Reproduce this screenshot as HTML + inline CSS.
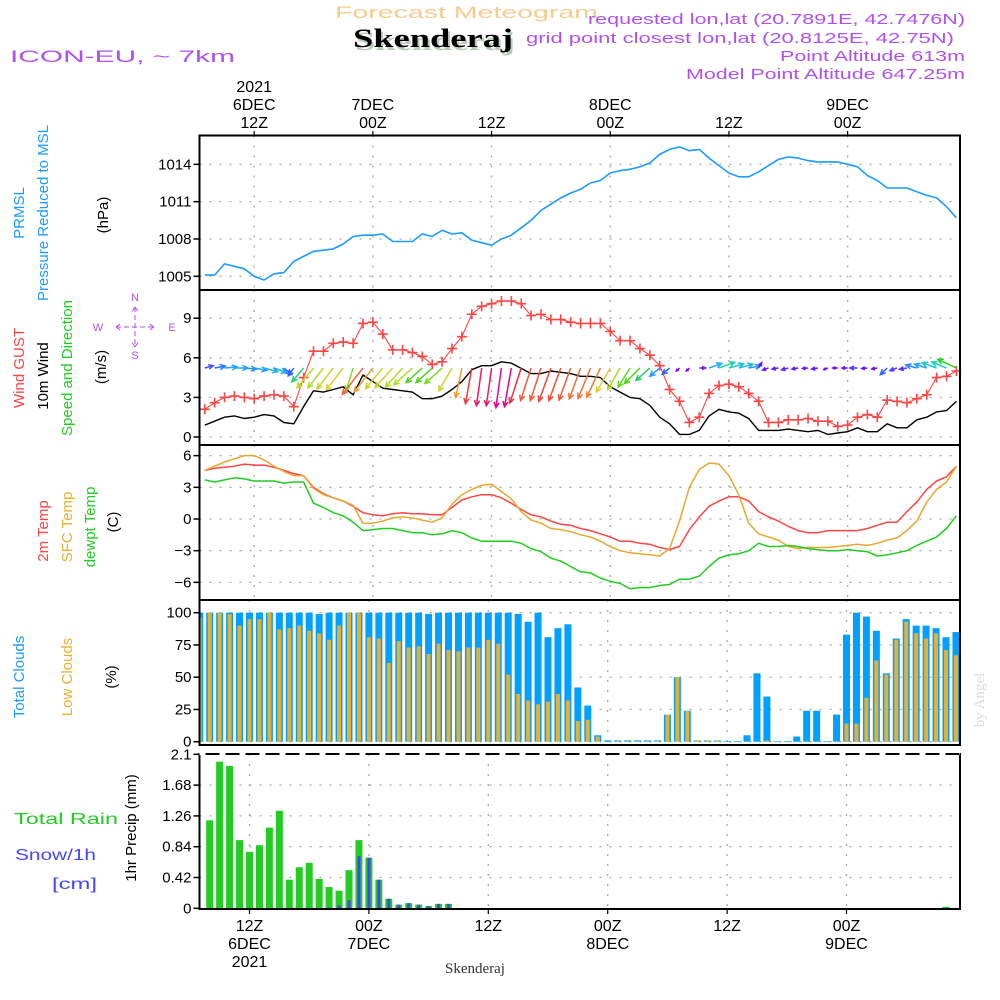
<!DOCTYPE html>
<html><head><meta charset="utf-8"><title>Forecast Meteogram Skenderaj</title>
<style>
html,body{margin:0;padding:0;background:#fff;}
svg{display:block;font-family:"Liberation Sans",sans-serif;}
</style></head>
<body>
<svg id="chart" width="1000" height="1000" viewBox="0 0 1000 1000" xmlns="http://www.w3.org/2000/svg">
<g>
<text x="335" y="18" font-size="17" fill="#f5cc8e" textLength="263" lengthAdjust="spacingAndGlyphs">Forecast Meteogram</text>
<text x="355" y="50" font-family="Liberation Serif,serif" font-weight="bold" font-size="26" fill="#b8cbb8" textLength="160" lengthAdjust="spacingAndGlyphs">Skenderaj</text>
<text x="353" y="47" font-family="Liberation Serif,serif" font-weight="bold" font-size="26" fill="#000" textLength="160" lengthAdjust="spacingAndGlyphs">Skenderaj</text>
<text x="10" y="62" font-size="17" fill="#b050f0" textLength="225" lengthAdjust="spacingAndGlyphs">ICON-EU, ~ 7km</text>
<text x="588" y="24" font-size="15" fill="#b050f0" textLength="377" lengthAdjust="spacingAndGlyphs">requested lon,lat (20.7891E, 42.7476N)</text>
<text x="526" y="43" font-size="15" fill="#b050f0" textLength="428" lengthAdjust="spacingAndGlyphs">grid point closest lon,lat (20.8125E, 42.75N)</text>
<text x="780" y="61" font-size="15" fill="#b050f0" textLength="185" lengthAdjust="spacingAndGlyphs">Point Altitude 613m</text>
<text x="686" y="79" font-size="15" fill="#b050f0" textLength="279" lengthAdjust="spacingAndGlyphs">Model Point Altitude 647.25m</text>
</g>
<g id="grid"></g>
<g id="marks"></g>
<g id="frames"></g>
<g id="axes"></g>
<g font-size="15">
<text transform="translate(24,213) rotate(-90)" text-anchor="middle" fill="#1e9bff">PRMSL</text>
<text transform="translate(48,213) rotate(-90)" text-anchor="middle" fill="#1e9bff">Pressure  Reduced to MSL</text>
<text transform="translate(108,215) rotate(-90)" text-anchor="middle" fill="#000">(hPa)</text>
<text transform="translate(24,368) rotate(-90)" text-anchor="middle" fill="#ff4444">Wind GUST</text>
<text transform="translate(48,376) rotate(-90)" text-anchor="middle" fill="#000">10m Wind</text>
<text transform="translate(72,368) rotate(-90)" text-anchor="middle" fill="#22cc22">Speed and Direction</text>
<text transform="translate(106,367) rotate(-90)" text-anchor="middle" fill="#000">(m/s)</text>
<g fill="#b050f0" font-size="11" text-anchor="middle">
<text x="135" y="301">N</text><text x="135" y="359">S</text>
<text x="98" y="331">W</text><text x="172" y="331">E</text>
<path d="M116,327H154M116,327l6,-4M116,327l6,4M154,327l-6,-4M154,327l-6,4M135,307V347M135,307l-4,6M135,307l4,6M135,347l-4,-6M135,347l4,-6" stroke="#b050f0" stroke-width="1" stroke-dasharray="5 3" fill="none"/>
</g>
<text transform="translate(48,531) rotate(-90)" text-anchor="middle" fill="#ff4444">2m Temp</text>
<text transform="translate(72,527) rotate(-90)" text-anchor="middle" fill="#e8b030">SFC Temp</text>
<text transform="translate(95,527) rotate(-90)" text-anchor="middle" fill="#22cc22">dewpt Temp</text>
<text transform="translate(118,522) rotate(-90)" text-anchor="middle" fill="#000">(C)</text>
<text transform="translate(24,677) rotate(-90)" text-anchor="middle" fill="#1e9bff">Total Clouds</text>
<text transform="translate(72,677) rotate(-90)" text-anchor="middle" fill="#e8b030">Low Clouds</text>
<text transform="translate(116,677) rotate(-90)" text-anchor="middle" fill="#000">(%)</text>
<text transform="translate(136,828) rotate(-90)" text-anchor="middle" fill="#000">1hr Precip (mm)</text>
<text x="14" y="824" fill="#22cc22" font-size="16" textLength="104" lengthAdjust="spacingAndGlyphs">Total   Rain</text>
<text x="15" y="860" fill="#4444ff" font-size="16" textLength="81" lengthAdjust="spacingAndGlyphs">Snow/1h</text>
<text x="52" y="889" fill="#4444ff" font-size="16" textLength="45" lengthAdjust="spacingAndGlyphs">[cm]</text>
<text transform="translate(984,700) rotate(-90)" text-anchor="middle" font-family="Liberation Serif,serif" font-size="15" fill="#d8ddd8">by Angel</text>
<text x="475" y="973" text-anchor="middle" font-family="Liberation Serif,serif" font-size="15" fill="#333">Skenderaj</text>
</g>
</svg>
<script>
// ---- data (hours from 06 DEC 12Z, hourly from -5 to 71) ----
const hours = [-5,-4,-3,-2,-1,0,1,2,3,4,5,6,7,8,9,10,11,12,13,14,15,16,17,18,19,20,21,22,23,24,25,26,27,28,29,30,31,32,33,34,35,36,37,38,39,40,41,42,43,44,45,46,47,48,49,50,51,52,53,54,55,56,57,58,59,60,61,62,63,64,65,66,67,68,69,70,71];
const pressure = [1005.1,1005.1,1006.0,1005.8,1005.6,1005.0,1004.7,1005.2,1005.3,1006.2,1006.6,1007.0,1007.1,1007.2,1007.6,1008.2,1008.3,1008.3,1008.4,1007.8,1007.8,1007.8,1008.4,1008.2,1008.7,1008.4,1008.5,1007.9,1007.7,1007.5,1008.0,1008.3,1008.9,1009.5,1010.3,1010.8,1011.3,1011.7,1012.0,1012.5,1012.7,1013.3,1013.5,1013.6,1013.8,1014.1,1014.8,1015.2,1015.4,1015.1,1015.2,1014.5,1013.9,1013.3,1013.0,1013.0,1013.4,1013.9,1014.4,1014.6,1014.5,1014.3,1014.2,1014.2,1014.2,1014.0,1013.8,1013.1,1012.7,1012.1,1012.1,1012.1,1011.8,1011.5,1011.3,1010.6,1009.7];
const windGust = [2.1,2.6,3.0,3.1,3.0,2.9,3.1,3.2,3.1,2.3,4.5,6.5,6.5,7.1,7.2,7.1,8.6,8.7,7.8,6.6,6.6,6.4,6.1,5.5,5.7,6.7,7.6,9.3,9.9,10.1,10.3,10.3,10.1,9.2,9.3,8.9,8.9,8.7,8.6,8.6,8.6,8.0,7.3,7.3,6.7,6.2,5.4,3.6,2.7,1.1,1.5,3.3,3.9,4.0,3.8,3.3,2.7,1.1,1.1,1.3,1.3,1.4,1.2,1.2,0.8,0.9,1.5,1.7,1.5,2.8,2.7,2.6,2.9,3.2,4.5,4.6,5.0];
const wind10m = [0.9,1.2,1.5,1.6,1.4,1.5,1.7,1.6,1.1,1.0,2.3,3.5,3.4,3.6,3.8,3.2,4.7,4.2,3.7,3.6,3.5,3.4,2.9,2.9,3.1,3.6,4.2,5.1,5.4,5.4,5.7,5.6,5.2,4.8,4.8,5.0,4.9,4.8,4.6,4.6,4.5,3.8,3.4,3.0,2.9,2.4,1.5,1.0,0.2,0.2,0.5,1.6,2.1,1.9,1.8,1.4,0.5,0.5,0.5,0.6,0.5,0.4,0.5,0.2,0.3,0.4,0.7,0.4,0.4,1.0,0.7,0.7,1.3,1.5,1.9,2.0,2.7];
const windDir = [15,10,5,0,-5,-10,-15,-20,-40,235,230,230,232,232,232,253,232,232,230,228,228,222,222,222,222,240,258,260,262,262,262,260,252,252,252,250,250,250,250,248,245,240,240,238,225,222,220,220,225,225,0,20,20,15,15,10,60,200,190,195,190,185,190,200,180,180,180,185,190,225,200,190,165,162,160,158,155];
const temp2m = [4.6,4.8,4.9,5.0,5.2,5.1,5.1,4.9,4.6,4.3,4.1,3.0,2.4,2.0,1.7,1.2,0.6,0.4,0.3,0.5,0.6,0.5,0.5,0.4,0.4,1.1,1.8,2.1,2.3,2.3,2.0,1.5,0.9,0.4,0.2,-0.2,-0.5,-0.6,-0.9,-1.1,-1.4,-1.7,-2.1,-2.1,-2.3,-2.4,-2.7,-2.9,-2.6,-1.0,0.2,1.2,1.7,2.1,2.1,1.7,0.7,0.2,-0.2,-0.7,-1.1,-1.3,-1.3,-1.1,-1.1,-1.1,-1.1,-0.9,-0.6,-0.3,-0.3,0.7,1.6,2.8,3.6,4.0,5.0];
const tempSfc = [4.6,5.0,5.4,5.7,6.0,6.0,5.6,5.0,4.5,4.1,4.1,2.9,2.3,2.0,1.7,1.3,-0.4,-0.4,-0.2,0.1,0.2,0.1,-0.1,-0.3,0.1,1.4,2.3,2.8,3.2,3.3,2.6,1.9,0.7,-0.1,-0.4,-0.9,-1.0,-1.2,-1.5,-1.7,-2.1,-2.6,-3.0,-3.2,-3.3,-3.4,-3.5,-2.8,-0.2,3.0,4.7,5.3,5.2,4.1,2.3,-0.4,-1.4,-1.7,-2.0,-2.6,-2.8,-2.7,-2.7,-2.7,-2.6,-2.5,-2.4,-2.5,-2.3,-2.0,-1.8,-1.1,-0.2,1.6,2.8,3.5,5.0];
const tempDew = [3.7,3.5,3.7,3.9,3.8,3.6,3.6,3.6,3.4,3.5,3.5,1.5,1.1,0.6,0.3,-0.3,-1.1,-1.0,-0.9,-0.9,-1.1,-1.3,-1.3,-1.5,-1.4,-1.1,-1.3,-1.8,-2.1,-2.1,-2.1,-2.1,-2.3,-2.8,-3.1,-3.7,-4.0,-4.5,-5.0,-5.1,-5.6,-5.9,-6.1,-6.6,-6.5,-6.5,-6.3,-6.2,-5.7,-5.7,-5.4,-4.5,-3.7,-3.4,-3.3,-3.0,-2.3,-2.6,-2.6,-2.5,-2.6,-2.8,-2.9,-3.0,-3.0,-2.9,-3.0,-3.1,-3.5,-3.4,-3.2,-3.0,-2.5,-2.1,-1.7,-0.9,0.3];
const totalClouds = [100,100,100,100,100,100,100,100,100,100,100,100,99,100,100,100,100,100,100,100,100,100,100,99,100,100,100,100,100,100,100,100,99,93,100,81,88,91,42,28,5,1,1,1,1,1,1,21,50,24,1,1,1,0.5,0.5,5,53,35,0.5,0.5,4,24,24,0.5,21,83,100,97,86,53,80,95,90,90,88,81,85];
const lowClouds = [96,100,100,99,90,95,95,100,87,88,90,86,84,79,90,100,100,81,80,61,78,73,74,68,76,71,70,73,73,79,76,52,37,32,29,31,37,32,16,17,4,0,0.5,0.5,0.5,0.5,0.5,21,50,24,1,1,1,0,0,0,0,1,0,0,0,0,0,0,0,14,14,34,63,52,79,93,84,80,84,71,67];
const rain = [0,1.20,2.0,1.94,0.93,0.77,0.86,1.10,1.33,0.39,0.56,0.62,0.40,0.29,0.24,0.52,0.93,0.69,0.39,0.13,0.05,0.07,0.05,0.03,0.06,0.06,0,0,0,0,0,0,0,0,0,0,0,0,0,0,0,0,0,0,0,0,0,0,0,0,0,0,0,0,0,0,0,0,0,0,0,0,0,0,0,0,0,0,0,0,0,0,0,0,0,0.02,0];
const snow = [0,0,0,0,0,0,0,0,0,0,0,0,0,0.01,0.04,0.11,0.71,0.69,0.39,0.13,0.05,0.07,0.05,0.03,0.06,0.06,0,0,0,0,0,0,0,0,0,0,0,0,0,0,0,0,0,0,0,0,0,0,0,0,0,0,0,0,0,0,0,0,0,0,0,0,0,0,0,0,0,0,0,0,0,0,0,0,0,0,0];
const pressureTicks = [1005,1008,1011,1014];
const windTicks = [0,3,6,9];
const tempTicks = [-6,-3,0,3,6];
const cloudTicks = [0,25,50,75,100];
const precipTicks = [0,0.42,0.84,1.26,1.68,2.1];
const timeTickHours = [0,12,24,36,48,60];
const topLabels = [["2021","6DEC","12Z"],["7DEC","00Z"],["12Z"],["8DEC","00Z"],["12Z"],["9DEC","00Z"]];
const bottomLabels = [["12Z","6DEC","2021"],["00Z","7DEC"],["12Z"],["00Z","8DEC"],["12Z"],["00Z","9DEC"]];

// ---- scales ----
const NS='http://www.w3.org/2000/svg';
const L=199.5, R=960;
const xt = h => 254.2 + h*9.89;
const xb = h => 249.5 + h*9.95;
const yP = p => 276.3 - (p-1005)*12.44;
const yW = v => 437 - v*13.2;
const yT = t => 519 - t*10.56;
const yC = c => 741.7 - c*1.29;
const yR = r => 908.3 - r*73.33;
const panels = [
 {name:'pressure',top:135.5,bot:290,ticks:pressureTicks,y:yP,x:xt,fmt:v=>String(v)},
 {name:'wind',top:290,bot:445,ticks:windTicks,y:yW,x:xt,fmt:v=>String(v)},
 {name:'temp',top:445,bot:600,ticks:tempTicks,y:yT,x:xt,fmt:v=>v<0?'\u2212'+(-v):String(v)},
 {name:'clouds',top:600,bot:745,ticks:cloudTicks,y:yC,x:xb,fmt:v=>String(v)},
 {name:'precip',top:754,bot:909,ticks:precipTicks,y:yR,x:xb,fmt:v=>String(v)}
];
function mk(tag, attrs, parent){const e=document.createElementNS(NS,tag);for(const k in attrs)e.setAttribute(k,attrs[k]);parent.appendChild(e);return e;}
const G=document.getElementById('grid'), M=document.getElementById('marks'), F=document.getElementById('frames'), A=document.getElementById('axes');

panels.forEach(p=>{
  p.ticks.forEach(t=>{
    const y=p.y(t);
    if(y>p.top+2 && y<p.bot-2){
      const g=mk('line',{x1:L,x2:R,y1:y,y2:y,stroke:'#aaa','stroke-width':1.3,'stroke-dasharray':'2 8'},G);
      
      
    }
    const tk=mk('line',{x1:L-6,x2:L,y1:y,y2:y,stroke:'#000','stroke-width':1.5},A);
    
    
    const lb=mk('text',{x:L-8,y:y+5,'text-anchor':'end','font-size':15,fill:'#000'},A);
    
    
    lb.textContent=p.fmt(t);
  });
  timeTickHours.forEach(h=>{
    const x=p.x(h);
    const g=mk('line',{x1:x,x2:x,y1:p.top,y2:p.bot,stroke:'#aaa','stroke-width':1.3,'stroke-dasharray':'2 8'},G);
    
    
  });
  const fr=mk('rect',{x:L,y:p.top,width:R-L,height:p.bot-p.top,fill:'none',stroke:'#000','stroke-width':2},F);
  
  
});
const dl=mk('line',{x1:L,x2:R,y1:754,y2:754,stroke:'#fff','stroke-width':2.2,'stroke-dasharray':'6 14'},F);



timeTickHours.forEach((h,i)=>{
  const x=xt(h);
  const tk=mk('line',{x1:x,x2:x,y1:131,y2:136,stroke:'#000','stroke-width':1.2},A);
  
  
  const lines=topLabels[i];
  lines.forEach((s,j)=>{
    const y=128-(lines.length-1-j)*18;
    const t=mk('text',{x:x,y:y,'text-anchor':'middle','font-size':16,fill:'#000'},A);
    
    
    t.textContent=s;
  });
  const xb0=xb(h);
  const tk2=mk('line',{x1:xb0,x2:xb0,y1:909,y2:914,stroke:'#000','stroke-width':1.2},A);
  
  
  bottomLabels[i].forEach((s,j)=>{
    const t=mk('text',{x:xb0,y:931+j*18,'text-anchor':'middle','font-size':16,fill:'#000'},A);
    
    
    t.textContent=s;
  });
});

function poly(vals, xf, yf, color, name, w){
  const pts=vals.map((v,i)=>xf(hours[i]).toFixed(1)+','+yf(v).toFixed(1)).join(' ');
  const e=mk('polyline',{points:pts,fill:'none',stroke:color,'stroke-width':w||1.5,'stroke-linejoin':'round'},M);
  
  
  return e;
}
poly(pressure, xt, yP, '#1e9bff', 'pressure-line', 1.6);
poly(wind10m, xt, yW, '#000', 'wind-10m-line', 1.4);
poly(windGust, xt, yW, '#ff4444', 'wind-gust-line', 1.1);
windGust.forEach((v,i)=>{
  const x=xt(hours[i]), y=yW(v);
  const c=mk('path',{d:`M${x-5},${y}H${x+5}M${x},${y-5}V${y+5}`,stroke:'#ff4444','stroke-width':1.6},M);
  
  
});
function windColor(s){
  const st=[[0.3,[128,0,255]],[1.0,[48,96,255]],[1.5,[32,160,255]],[2.0,[32,208,192]],[2.7,[32,208,32]],[3.3,[160,224,32]],[3.8,[224,208,48]],[4.3,[240,144,48]],[5.2,[240,48,64]],[5.6,[240,0,144]]];
  if(s<=st[0][0])return 'rgb('+st[0][1]+')';
  for(let i=1;i<st.length;i++){if(s<=st[i][0]){const a=st[i-1],b=st[i],f=(s-a[0])/(b[0]-a[0]);return 'rgb('+a[1].map((c,k)=>Math.round(c+(b[1][k]-c)*f)).join(',')+')';}}
  return 'rgb('+st[st.length-1][1]+')';
}
windDir.forEach((d,i)=>{
  const s=wind10m[i], len=3+6.5*s, a=d*Math.PI/180;
  const x0=xt(hours[i]), y0=368;
  const x1=x0+len*Math.cos(a), y1=y0-len*Math.sin(a);
  const h1=a+Math.PI-0.45, h2=a+Math.PI+0.45, hl=Math.min(6,len*0.6);
  const dd=`M${x0.toFixed(1)},${y0}L${x1.toFixed(1)},${y1.toFixed(1)}M${(x1+hl*Math.cos(h1)).toFixed(1)},${(y1-hl*Math.sin(h1)).toFixed(1)}L${x1.toFixed(1)},${y1.toFixed(1)}L${(x1+hl*Math.cos(h2)).toFixed(1)},${(y1-hl*Math.sin(h2)).toFixed(1)}`;
  const e=mk('path',{d:dd,fill:'none',stroke:windColor(s),'stroke-width':1.5},M);
  
  
});
poly(temp2m, xt, yT, '#ff4444', 'temp-2m-line', 1.5);
poly(tempSfc, xt, yT, '#e8a830', 'temp-sfc-line', 1.5);
poly(tempDew, xt, yT, '#22cc22', 'dewpoint-line', 1.5);
totalClouds.forEach((v,i)=>{
  const x=xb(hours[i]);
  const y=yC(v), bx=Math.max(x-3.5,L+1), bw=Math.min(x+3.5,R-1)-bx;
  const b=mk('rect',{x:bx,y:y,width:Math.max(bw,0),height:yC(0)-y,fill:'#00a0ff'},M);
  
  
  const lv=lowClouds[i], ly=yC(lv), lx=Math.max(x-2,L+1), lw=Math.min(x+2,R-1)-lx;
  const o=mk('rect',{x:lx,y:ly,width:Math.max(lw,0),height:yC(0)-ly,fill:'#e8b030'},M);
  
  
});
rain.forEach((v,i)=>{
  if(v<=0)return;
  const x=xb(hours[i]), y=yR(v);
  const b=mk('rect',{x:x-3.5,y:y,width:7,height:yR(0)-y,fill:'#22cc22'},M);
  
  
});
snow.forEach((v,i)=>{
  if(v<=0)return;
  const x=xb(hours[i]), y=yR(v);
  const b=mk('rect',{x:x-1.5,y:y,width:3,height:yR(0)-y,fill:'#4444ff'},M);
  
  
});
</script>
</body></html>
